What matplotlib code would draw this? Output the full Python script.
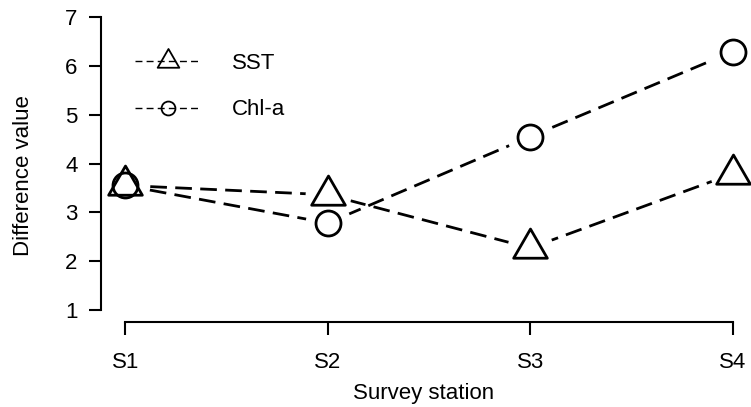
import matplotlib
matplotlib.use("Agg")
import matplotlib.pyplot as plt
from matplotlib.path import Path
from matplotlib.lines import Line2D
import numpy as np

plt.rcParams['font.family'] = ['Liberation Sans', 'DejaVu Sans']

# data
stations = ['S1', 'S2', 'S3', 'S4']
sst = [3.55, 3.36, 2.27, 3.79]
chla = [3.55, 2.78, 4.55, 6.29]
yticks = [1, 2, 3, 4, 5, 6, 7]

x = np.arange(1, len(stations) + 1)

# equilateral triangle like R's pch=2, centred on the point
tri = Path([(0, 1), (-0.866, -0.5), (0.866, -0.5), (0, 1)],
           [Path.MOVETO, Path.LINETO, Path.LINETO, Path.CLOSEPOLY])

W, H = 751, 407
fig = plt.figure(figsize=(W / 100, H / 100), dpi=100)
# plot region in pixels: left 101, right 757, top 5.3, bottom 321.7
ax = fig.add_axes([101 / W, (H - 321.7) / H, 656 / W, 316.4 / H])
ax.set_xlim(0.88, 4.12)
ax.set_ylim(0.76, 7.24)

dash = (0, (6, 3))
# dashed lines (R type="b": gaps around the points)
ax.plot(x, sst, color='black', lw=2, linestyle=dash, zorder=2)
ax.plot(x, chla, color='black', lw=2, linestyle=dash, zorder=2)
# white disks to cut the gaps
ax.plot(x, sst, linestyle='none', marker='o', ms=33, mfc='white', mec='none', zorder=3)
ax.plot(x, chla, linestyle='none', marker='o', ms=33, mfc='white', mec='none', zorder=3)
# hollow symbols
ax.plot(x, sst, linestyle='none', marker=tri, ms=28, mfc='none', mec='black', mew=2, zorder=4)
ax.plot(x, chla, linestyle='none', marker='o', ms=18, mfc='none', mec='black', mew=2, zorder=4)

# axes like R base graphics
for s in ['top', 'right']:
    ax.spines[s].set_visible(False)
ax.spines['left'].set_bounds(1, 7)
ax.spines['bottom'].set_bounds(1, 4)
for s in ['left', 'bottom']:
    ax.spines[s].set_linewidth(1.5)
ax.set_xticks(x)
ax.set_xticklabels(stations)
ax.set_yticks(yticks)
ax.tick_params(axis='both', direction='out', length=9, width=1.5, labelsize=16)
ax.tick_params(axis='x', pad=13)
ax.tick_params(axis='y', pad=8)

ax.set_xlabel('Survey station', fontsize=16, va='center')
ax.xaxis.set_label_coords((424 - 101) / 656, (321.7 - 393) / 316.4)
ax.set_ylabel('Difference value', fontsize=16, va='center')
ax.yaxis.set_label_coords((24 - 101) / 656, (321.7 - 176) / 316.4)

handles = [
    Line2D([], [], color='black', lw=1, linestyle=(0, (5, 3)), marker=tri, ms=18,
           mfc='none', mec='black', mew=1.3),
    Line2D([], [], color='black', lw=1, linestyle=(0, (5, 3)), marker='o', ms=10,
           mfc='none', mec='black', mew=1.3),
]
ax.legend(handles, ['SST', 'Chl-a'], loc='upper left', frameon=False, fontsize=16,
          bbox_to_anchor=((135 - 101) / 656, (321.7 - 53) / 316.4),
          borderpad=0, borderaxespad=0, handlelength=2.93, handletextpad=1.44,
          labelspacing=1.14)

fig.savefig('out.png', dpi=100)
